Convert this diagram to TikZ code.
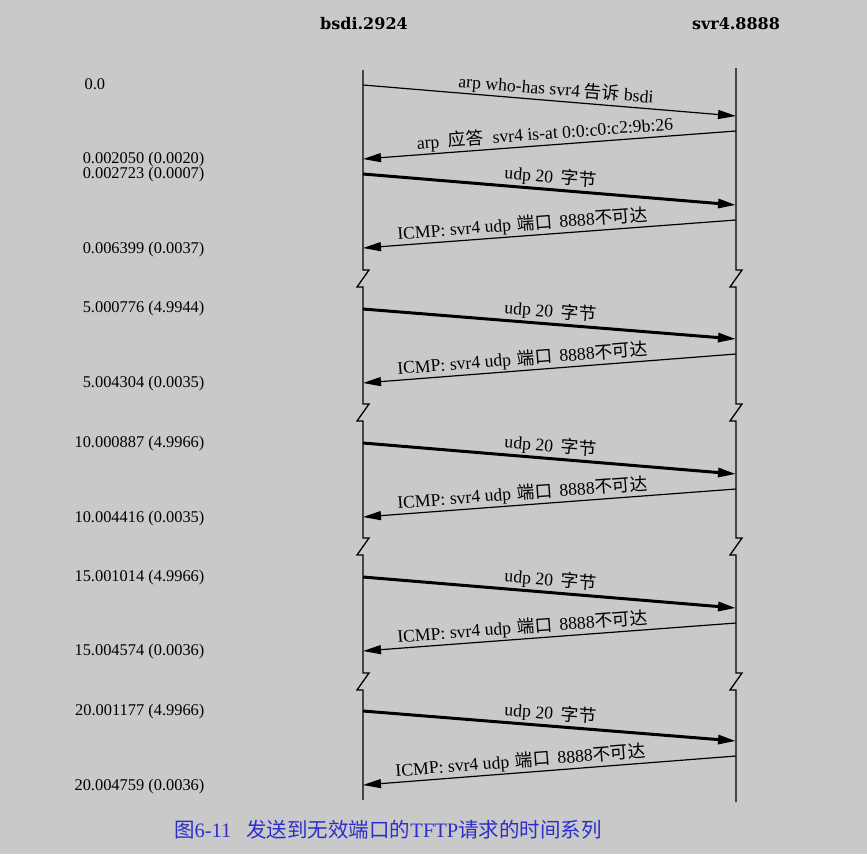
\documentclass[tikz,border=0pt]{standalone}
\usepackage{fontspec}
\setmainfont{Liberation Serif}
\newfontfamily\titlefont{DejaVu Serif}
\newfontfamily\cjk{Noto Sans CJK SC}
\usetikzlibrary{arrows.meta}
\definecolor{paper}{RGB}{201,201,201}
\definecolor{capblue}{RGB}{45,45,205}
\newcommand{\udpmsg}{udp 20\hspace{8pt}{\cjk 字节}}
\newcommand{\icmpmsg}{ICMP: svr4 udp\hspace{6pt}{\cjk 端口}\hspace{7pt}8888{\cjk 不可达}}

\begin{document}
\begin{tikzpicture}[x=1pt,y=-1pt,line width=1.2pt,
        every edge/.style={draw,-{Triangle[length=18pt,width=9pt]}},
        msg/.style={font=\fontsize{17.7}{21}\selectfont,sloped,above,inner sep=1.5pt},
        udp/.style={line width=3pt},
        life/.style={line width=1.3pt},
        time/.style={font=\fontsize{16.4}{19}\selectfont,anchor=base east,inner sep=0pt},
        host/.style={font=\titlefont\bfseries\fontsize{16}{19}\selectfont,anchor=base,inner sep=0pt}]

  \fill[paper] (0,0) rectangle (867,854);

  \node[host] (bsdi) at (364,29) {bsdi.2924};
  \node[host] (svr4) at (736,29) {svr4.8888};

  \coordinate (btop) at (363,70);  \coordinate (bbot) at (363,800);
  \coordinate (stop) at (736,68);  \coordinate (sbot) at (736,802);

  % lifelines with the breaks
  \draw[life] (btop) -- ++(0,200) -- ++(6,0) -- ++(-12,17) -- ++(6,0)
     -- ++(0,117) -- ++(6,0) -- ++(-12,17) -- ++(6,0)
     -- ++(0,117) -- ++(6,0) -- ++(-12,17) -- ++(6,0)
     -- ++(0,118) -- ++(6,0) -- ++(-12,17) -- ++(6,0) -- (bbot);
  \draw[life] (stop) -- ++(0,202) -- ++(6,0) -- ++(-12,17) -- ++(6,0)
     -- ++(0,117) -- ++(6,0) -- ++(-12,17) -- ++(6,0)
     -- ++(0,117) -- ++(6,0) -- ++(-12,17) -- ++(6,0)
     -- ++(0,118) -- ++(6,0) -- ++(-12,17) -- ++(6,0) -- (sbot);

  \node[time,anchor=base west] (t0) at (84,89) {0.0};
  \node[time] (t1) at (205,163) {0.002050 (0.0020)};
  \node[time] (t2) at (205,178) {0.002723 (0.0007)};
  \node[time] (t3) at (205,253) {0.006399 (0.0037)};
  \node[time] (t4) at (205,312) {5.000776 (4.9944)};
  \node[time] (t5) at (205,387) {5.004304 (0.0035)};
  \node[time] (t6) at (205,447) {10.000887 (4.9966)};
  \node[time] (t7) at (205,522) {10.004416 (0.0035)};
  \node[time] (t8) at (205,581) {15.001014 (4.9966)};
  \node[time] (t9) at (205,655) {15.004574 (0.0036)};
  \node[time] (t10) at (205,715) {20.001177 (4.9966)};
  \node[time] (t11) at (205,790) {20.004759 (0.0036)};

  \coordinate (b1) at (363,85);   \coordinate (s1) at (736,116);
  \coordinate (s2) at (736,131);  \coordinate (b2) at (363,159);
  \coordinate (b3) at (363,174);  \coordinate (s3) at (736,205);
  \coordinate (s4) at (736,220);  \coordinate (b4) at (363,248);
  \coordinate (b5) at (363,309);  \coordinate (s5) at (736,339);
  \coordinate (s6) at (736,354);  \coordinate (b6) at (363,383);
  \coordinate (b7) at (363,443);  \coordinate (s7) at (736,474);
  \coordinate (s8) at (736,489);  \coordinate (b8) at (363,517);
  \coordinate (b9) at (363,577);  \coordinate (s9) at (736,608);
  \coordinate (s10) at (736,623); \coordinate (b10) at (363,651);
  \coordinate (b11) at (363,711); \coordinate (s11) at (736,741);
  \coordinate (s12) at (736,756); \coordinate (b12) at (363,785);

  \path (b1) edge node[msg,pos=.515] {arp who-has svr4 {\cjk 告诉} bsdi} (s1)
        (s2) edge node[msg,pos=.51] {arp\hspace{9pt}{\cjk 应答}\hspace{9pt}svr4 is-at 0:0:c0:c2:9b:26} (b2)
        (b3) edge[udp] node[msg] {\udpmsg} (s3)
        (s4) edge node[msg,pos=.57] {\icmpmsg} (b4)
        (b5) edge[udp] node[msg] {\udpmsg} (s5)
        (s6) edge node[msg,pos=.57] {\icmpmsg} (b6)
        (b7) edge[udp] node[msg] {\udpmsg} (s7)
        (s8) edge node[msg,pos=.57] {\icmpmsg} (b8)
        (b9) edge[udp] node[msg] {\udpmsg} (s9)
        (s10) edge node[msg,pos=.57] {\icmpmsg} (b10)
        (b11) edge[udp] node[msg] {\udpmsg} (s11)
        (s12) edge node[msg,pos=.575] {\icmpmsg} (b12);

  \node[font=\fontsize{20.5}{24}\selectfont,text=capblue,anchor=base] (caption) at (388,837)
    {{\cjk 图}6-11\hspace{15pt}{\cjk 发送到无效端口的}TFTP{\cjk 请求的时间系列}};

\end{tikzpicture}
\end{document}
